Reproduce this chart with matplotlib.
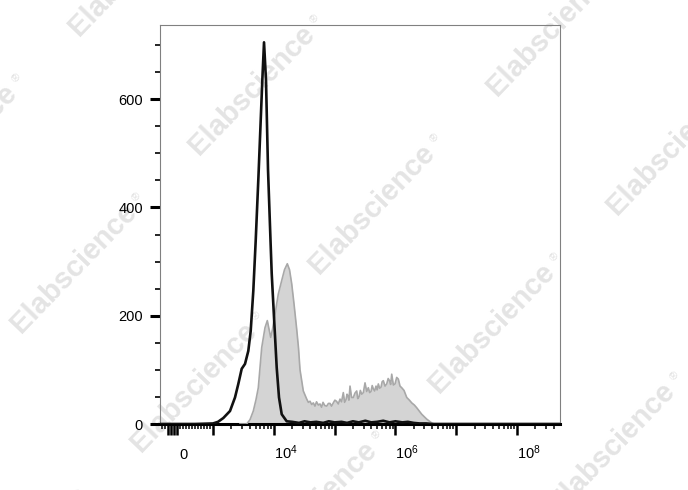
import numpy as np
import matplotlib.pyplot as plt
from matplotlib.ticker import FixedLocator, FuncFormatter

plt.rcParams['font.family'] = 'Liberation Sans'
plt.rcParams['mathtext.fontset'] = 'custom'
plt.rcParams['mathtext.rm'] = 'Liberation Sans'

# --- Data: histogram outlines ---
# unstained control (black line)
ctrl_x = [-767, 400, 1000, 1208, 1477, 1904, 2300, 2607, 2965, 3360, 3807, 4169,
          4601, 5039, 5604, 6471, 6902, 7441, 8028, 8825, 9236, 10076, 11161,
          12176, 13488, 16299, 20000, 26000, 32000, 40000, 50000, 65000, 80000,
          1.0e5, 1.3e5, 1.6e5, 2.0e5, 2.5e5, 3.2e5, 4.0e5, 5.0e5, 6.3e5, 8.0e5,
          1.0e6, 1.3e6, 1.6e6, 2.0e6, 2.5e6, 3.2e6, 4.0e6, 5.0e8]
ctrl_y = [0, 0, 1, 4, 11, 24, 49, 74, 102, 111, 135, 172,
          246, 339, 460, 635, 705, 635, 470, 339, 278, 197, 104,
          49, 18, 5, 4, 2, 5, 3, 4, 2, 5,
          3, 4, 2, 5, 3, 6, 3, 4, 6, 3,
          5, 3, 4, 2, 1, 1, 0, 0]

# stained sample (grey filled)
stain_x = [2780, 3580, 4061, 4601, 5096, 5559, 6323, 7166, 7820, 8892, 9520,
           10465, 11858, 13488, 14997, 16670, 18130, 19700, 21480, 23800, 25490,
           26980, 30560, 34770, 37000, 39390, 42000, 44640, 47500, 50400, 54000,
           57520, 61000, 64450, 69000, 74130, 79000, 84040, 89000,
           95200, 101000, 107500, 115000, 122700, 130000, 139000, 146000, 154000,
           160000, 166100, 172000, 179200, 190000, 203000, 216000, 230900,
           240000, 252000, 265000, 279000, 297000, 316200, 337000, 358400,
           377000, 396900, 415000, 433000, 455000, 479600, 500000, 523400,
           550000, 579800, 605000, 632400, 675000, 719400, 760000, 799800, 835000,
           869500, 925000, 985000, 1050000, 1116000, 1190000, 1269000, 1385000,
           1535000, 1700000, 1854000, 2050000, 2240000, 2708000, 3272000, 3954000,
           4315000]
stain_y = [0, 0, 8, 24, 45, 67, 141, 178, 191, 160, 175,
           203, 240, 265, 285, 296, 285, 259, 222, 175, 140,
           100, 61, 46, 40, 42, 36, 39, 33, 41, 35,
           37, 31, 40, 34, 33, 38, 38, 33,
           39, 44, 42, 37, 46, 41, 58, 40, 45,
           55, 52, 44, 70, 49, 49, 57, 61,
           47, 50, 62, 55, 58, 76, 60, 67,
           58, 60, 71, 65, 61, 70, 63, 74,
           66, 68, 78, 80, 70, 74, 84, 80, 73,
           92, 72, 74, 86, 83, 70, 67, 62,
           49, 44, 39, 35, 30, 18, 9, 2,
           0]

y_major = [0, 200, 400, 600]
y_minor = [50, 100, 150, 250, 300, 350, 450, 500, 550, 650, 700]
x_long = [-500, -400, -300, -200, 0, 1e3, 1e4, 1e5, 1e6, 1e7, 1e8]
x_labels = {0: '0', 1e4: r'$\mathregular{10^4}$', 1e6: r'$\mathregular{10^6}$',
            1e8: r'$\mathregular{10^8}$'}
x_short = [-700, -600, -100] + list(range(100, 1000, 100)) + \
          [k * 10.0 ** d for d in range(3, 9) for k in range(2, 10) if k * 10.0 ** d < 5e8]

# --- Figure ---
fig = plt.figure(figsize=(6.88, 4.90), dpi=100)
W, H = 688, 490
ax = fig.add_axes([160 / W, 1 - 424 / H, 400 / W, 399 / H])
ax.patch.set_alpha(0)

ax.fill_between(stain_x, stain_y, 0, color='#d4d4d4', lw=0, zorder=2)
ax.plot(stain_x, stain_y, color='#a8a8a8', lw=1.2, zorder=3)
ax.plot(ctrl_x, ctrl_y, color='#111111', lw=1.9, zorder=4)

ax.set_xscale('symlog', linthresh=1000, linscale=0.444)
ax.set_xlim(-767, 5.09e8)
ax.set_ylim(0, 737)

ax.xaxis.set_major_locator(FixedLocator(x_long))
ax.xaxis.set_major_formatter(FuncFormatter(lambda v, p: x_labels.get(v, '')))
ax.xaxis.set_minor_locator(FixedLocator(x_short))
ax.yaxis.set_major_locator(FixedLocator(y_major))
ax.yaxis.set_minor_locator(FixedLocator(y_minor))

for s in ['top', 'right', 'left']:
    ax.spines[s].set_color('#808080')
    ax.spines[s].set_linewidth(0.8)
ax.spines['bottom'].set_color('black')
ax.spines['bottom'].set_linewidth(2.2)

ax.tick_params(axis='x', which='major', length=7.9, width=1.8, pad=17.0, labelsize=10.5)
ax.tick_params(axis='x', which='minor', length=3.6, width=1.1)
ax.tick_params(axis='y', which='major', length=7.2, width=2.2, pad=5.0, labelsize=10.5)
ax.tick_params(axis='y', which='minor', length=3.6, width=1.2)

ticks = ax.xaxis.get_major_ticks(len(x_long))
for t, v in zip(ticks, x_long):
    t.label1.set_va('baseline')
    if v == 0:
        t.tick1line.set_markersize(3.6)
        t.tick1line.set_markeredgewidth(1.1)
    else:
        t.label1.set_ha('left')

# --- Watermark ---
th = np.deg2rad(46)
d = np.array([np.cos(th), -np.sin(th)])
up = np.array([-np.sin(th), -np.cos(th)])
for i in range(-4, 5):
    for j in range(-3, 4):
        cx = 252 + i * 120 + j * 178
        cy = 90 + i * 119 - j * 178
        if -130 < cx < W + 130 and -130 < cy < H + 130:
            fig.text(cx / W, 1 - cy / H, 'Elabscience', rotation=46, ha='center',
                     va='center', rotation_mode='anchor', fontsize=21,
                     fontweight='bold', color='#e4e4e4', zorder=-1)
            rx, ry = np.array([cx, cy]) + 95 * d + 4 * up
            fig.text(rx / W, 1 - ry / H, '\u00ae', rotation=46, ha='center',
                     va='center', rotation_mode='anchor', fontsize=8,
                     color='#e0e0e0', zorder=-1)

fig.savefig('out.png', dpi=100)
